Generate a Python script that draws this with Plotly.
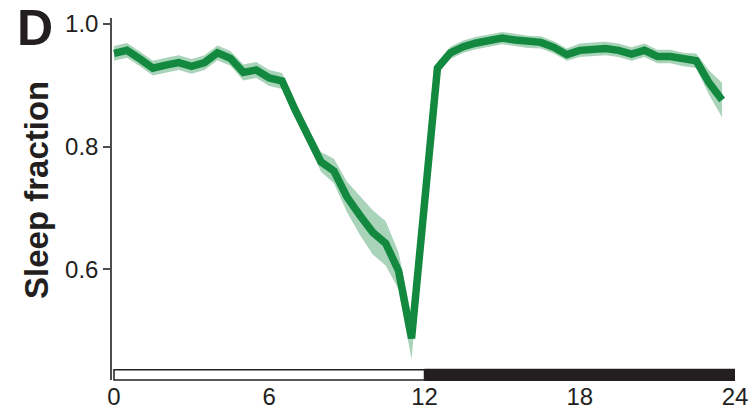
import plotly.graph_objects as go

# Zeitgeber time (h), half-hour bins
hours = [i * 0.5 for i in range(48)]
sleep_mean = [
    0.952, 0.957, 0.943, 0.928, 0.933, 0.937, 0.931, 0.937, 0.953, 0.944,
    0.921, 0.925, 0.912, 0.907, 0.860, 0.818, 0.775, 0.760, 0.718, 0.688,
    0.660, 0.642, 0.597, 0.487, 0.705, 0.928, 0.953, 0.963, 0.969, 0.973,
    0.977, 0.974, 0.971, 0.970, 0.962, 0.950, 0.957, 0.959, 0.960, 0.957,
    0.951, 0.957, 0.947, 0.947, 0.942, 0.940, 0.904, 0.876,
]
sleep_sem = [
    0.012, 0.012, 0.012, 0.012, 0.012, 0.012, 0.012, 0.012, 0.012, 0.012,
    0.013, 0.013, 0.013, 0.013, 0.012, 0.012, 0.016, 0.020, 0.025, 0.032,
    0.036, 0.036, 0.030, 0.035, 0.010, 0.010, 0.010, 0.010, 0.010, 0.010,
    0.010, 0.010, 0.010, 0.010, 0.010, 0.010, 0.011, 0.011, 0.011, 0.011,
    0.011, 0.011, 0.011, 0.011, 0.011, 0.012, 0.020, 0.028,
]
x_ticks = [0, 6, 12, 18, 24]
y_ticks = [0.6, 0.8, 1.0]
light_phase = [0, 12]
dark_phase = [12, 24]

GREEN = "#13893f"
BAND = "rgba(19,137,63,0.36)"
FONT = "Liberation Sans, Arial, sans-serif"

upper = [m + s for m, s in zip(sleep_mean, sleep_sem)]
lower = [m - s for m, s in zip(sleep_mean, sleep_sem)]

fig = go.Figure()
fig.add_trace(go.Scatter(
    x=hours + hours[::-1], y=upper + lower[::-1],
    fill="toself", fillcolor=BAND, line=dict(width=0),
    hoverinfo="skip", showlegend=False, mode="lines"))
fig.add_trace(go.Scatter(
    x=hours, y=sleep_mean, mode="lines",
    line=dict(color=GREEN, width=7.5), showlegend=False))

# light / dark bar
fig.add_shape(type="rect", xref="x", yref="paper",
              x0=light_phase[0], x1=light_phase[1], y0=0.0, y1=0.028,
              fillcolor="white", line=dict(color="#231f20", width=1.5))
fig.add_shape(type="rect", xref="x", yref="paper",
              x0=dark_phase[0], x1=dark_phase[1], y0=-0.003, y1=0.031,
              fillcolor="#231f20", line=dict(color="#231f20", width=0))

fig.add_annotation(text="<b>D</b>", x=-0.123, y=0.972, xref="paper", yref="paper",
                   showarrow=False, xanchor="center", yanchor="middle",
                   font=dict(family=FONT, size=50, color="#231f20"))
fig.add_annotation(text="<b>Sleep fraction</b>", x=-0.12, y=0.525,
                   xref="paper", yref="paper", textangle=-90,
                   showarrow=False, xanchor="center", yanchor="middle",
                   font=dict(family=FONT, size=33, color="#231f20"))

fig.update_layout(
    width=754, height=413,
    margin=dict(l=112, r=17, t=18, b=33),
    paper_bgcolor="white", plot_bgcolor="white",
    font=dict(family=FONT, size=24, color="#231f20"),
    xaxis=dict(range=[-0.077, 24.077], tickvals=x_ticks, ticktext=[str(v) for v in x_ticks],
               showline=False, showgrid=False, zeroline=False, ticks="", ticklen=0,
               tickfont=dict(size=24), automargin=False),
    yaxis=dict(range=[0.419, 1.0098], tickvals=y_ticks, ticktext=["0.6", "0.8", "1.0"],
               showline=True, linecolor="#4d4d4d", linewidth=1.5,
               ticks="outside", ticklen=7, tickcolor="#4d4d4d", tickwidth=1.5,
               showgrid=False, zeroline=False, tickfont=dict(size=24), automargin=False),
)

fig.write_html("out.html")
